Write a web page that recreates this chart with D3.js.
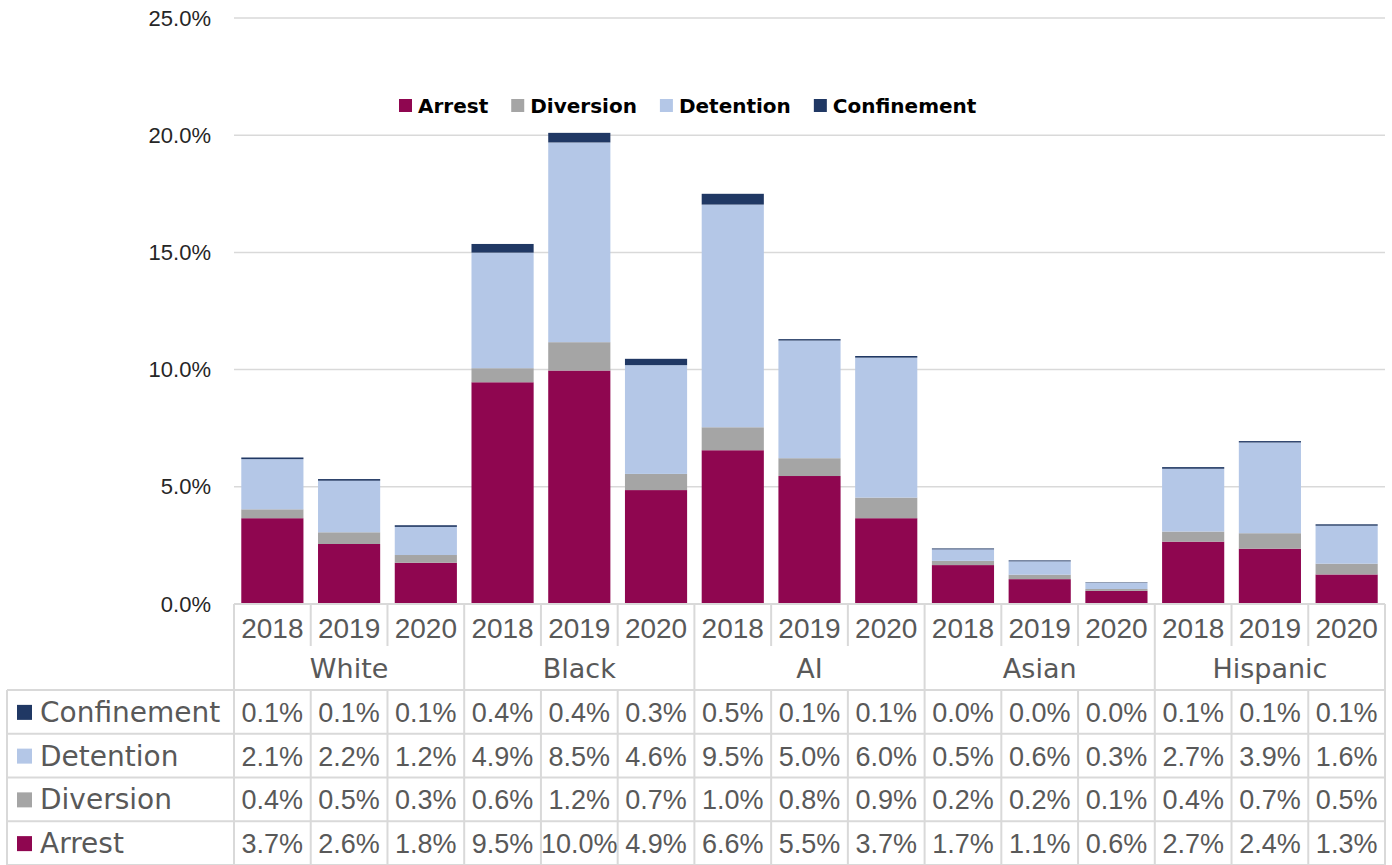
<!DOCTYPE html>
<html>
<head>
<meta charset="utf-8">
<script src="https://cdn.jsdelivr.net/npm/d3@7"></script>
<style>
  body { margin: 0; background: #fff; }
  svg { display: block; }
</style>
</head>
<body>
<svg id="drawing_region"></svg>
<script>
// data (bar heights, table shows them rounded to 0.1)
const groups = ["White", "Black", "AI", "Asian", "Hispanic"];
const years = ["2018", "2019", "2020"];
const seriesNames = ["Arrest", "Diversion", "Detention", "Confinement"];
const arrest      = [3.66, 2.56, 1.76, 9.46, 9.96, 4.86, 6.56, 5.46, 3.66, 1.66, 1.06, 0.56, 2.66, 2.36, 1.26];
const diversion   = [0.38, 0.50, 0.33, 0.60, 1.21, 0.69, 0.98, 0.76, 0.88, 0.18, 0.19, 0.08, 0.43, 0.66, 0.46];
const detention   = [2.14, 2.20, 1.20, 4.93, 8.52, 4.64, 9.50, 5.02, 5.97, 0.49, 0.57, 0.26, 2.68, 3.87, 1.62];
const confinement = [0.07, 0.07, 0.07, 0.37, 0.41, 0.27, 0.46, 0.06, 0.07, 0.04, 0.04, 0.02, 0.07, 0.06, 0.06];
const yTicks = [0, 5, 10, 15, 20, 25];

const colors = {
    Arrest: "#8f0650",
    Diversion: "#a5a5a5",
    Detention: "#b4c7e7",
    Confinement: "#203864"
};
const valuesBy = { Arrest: arrest, Diversion: diversion, Detention: detention, Confinement: confinement };

const W = 1392, H = 865;
const plotLeft = 234, plotRight = 1385, plotTop = 18, plotBase = 604;
const tableLeft = 7;
const yearBottom = 648, groupBottom = 690;
const rowH = (H - groupBottom) / 4;
const gridColor = "#d9d9d9";
const numFont = "'Liberation Sans', Arial, sans-serif";
const wordFont = "'DejaVu Sans', sans-serif";

const svg = d3.select("#drawing_region").attr("width", W).attr("height", H);

// one key per column
const keys = [];
groups.forEach(g => years.forEach(y => keys.push(g + "|" + y)));

const rows = keys.map((k, i) => {
    const r = { key: k };
    seriesNames.forEach(s => r[s] = valuesBy[s][i]);
    return r;
});

const xscale = d3.scaleBand().domain(keys).range([plotLeft, plotRight]).paddingInner(0.19).paddingOuter(0.095);
const colScale = d3.scaleBand().domain(keys).range([plotLeft, plotRight]);
const yscale = d3.scaleLinear().domain([0, 25]).range([plotBase, plotTop]);

// gridlines
svg.append("g").selectAll("line")
    .data(yTicks.filter(t => t > 0))
    .join("line")
    .attr("x1", plotLeft).attr("x2", plotRight)
    .attr("y1", d => yscale(d)).attr("y2", d => yscale(d))
    .attr("stroke", gridColor).attr("stroke-width", 1.5);

// y axis labels
const yaxis = d3.axisLeft(yscale).tickValues(yTicks).tickSize(0).tickPadding(23)
    .tickFormat(d => d.toFixed(1) + "%");
const yg = svg.append("g").attr("transform", `translate(${plotLeft},0)`).call(yaxis);
yg.select(".domain").remove();
yg.selectAll("text").attr("font-family", numFont).attr("font-size", 22).attr("fill", "#262626");

// stacked bars
const stack = d3.stack().keys(seriesNames)(rows);
svg.append("g").selectAll("g")
    .data(stack)
    .join("g")
    .attr("fill", d => colors[d.key])
    .selectAll("rect")
    .data(d => d)
    .join("rect")
    .attr("x", d => xscale(d.data.key))
    .attr("width", xscale.bandwidth())
    .attr("y", d => yscale(d[1]))
    .attr("height", d => yscale(d[0]) - yscale(d[1]));

// legend on top
const legend = svg.append("g");
let lx = 399;
seriesNames.forEach(s => {
    legend.append("rect").attr("x", lx).attr("y", 99).attr("width", 13).attr("height", 13).attr("fill", colors[s]);
    const t = legend.append("text").attr("x", lx + 19).attr("y", 113)
        .attr("font-family", wordFont).attr("font-weight", "bold").attr("font-size", 20)
        .attr("fill", "#000").text(s);
    lx += 19 + t.node().getComputedTextLength() + 23;
});

// data table
const table = svg.append("g");
const line = (x1, y1, x2, y2) => table.append("line")
    .attr("x1", x1).attr("y1", y1).attr("x2", x2).attr("y2", y2)
    .attr("stroke", gridColor).attr("stroke-width", 2);

line(plotLeft, plotBase, plotRight, plotBase);
line(tableLeft, groupBottom, plotRight, groupBottom);
for (let r = 1; r <= 4; r++) line(tableLeft, groupBottom + r * rowH, plotRight, groupBottom + r * rowH);
line(tableLeft, groupBottom, tableLeft, H);
keys.forEach((k, i) => {
    const x = colScale(k);
    if (i % 3 === 0) line(x, plotBase, x, H);
    else {
        line(x, plotBase, x, yearBottom - 2);
        line(x, groupBottom, x, H);
    }
});
line(plotRight, plotBase, plotRight, H);

// year labels
table.selectAll("text.year")
    .data(keys)
    .join("text")
    .attr("class", "year")
    .attr("x", d => colScale(d) + colScale.bandwidth() / 2)
    .attr("y", 638)
    .attr("text-anchor", "middle")
    .attr("font-family", numFont).attr("font-size", 28).attr("fill", "#595959")
    .text(d => d.split("|")[1]);

// group labels
table.selectAll("text.group")
    .data(groups)
    .join("text")
    .attr("class", "group")
    .attr("x", g => colScale(g + "|2018") + colScale.bandwidth() * 1.5)
    .attr("y", 678)
    .attr("text-anchor", "middle")
    .attr("font-family", wordFont).attr("font-size", 27).attr("fill", "#595959")
    .text(g => g);

// rows: Confinement, Detention, Diversion, Arrest
const tableOrder = seriesNames.slice().reverse();
tableOrder.forEach((s, r) => {
    const ty = groupBottom + r * rowH;
    table.append("rect").attr("x", 17).attr("y", ty + rowH / 2 - 7).attr("width", 15).attr("height", 15).attr("fill", colors[s]);
    table.append("text").attr("x", 40).attr("y", ty + rowH / 2 + 10)
        .attr("font-family", wordFont).attr("font-size", 28).attr("fill", "#595959").text(s);
    table.selectAll("text.v" + r)
        .data(valuesBy[s])
        .join("text")
        .attr("x", (d, i) => colScale(keys[i]) + colScale.bandwidth() / 2)
        .attr("y", ty + rowH / 2 + 10)
        .attr("text-anchor", "middle")
        .attr("font-family", numFont).attr("font-size", 27).attr("fill", "#595959")
        .text(d => d.toFixed(1) + "%");
});
</script>
</body>
</html>
